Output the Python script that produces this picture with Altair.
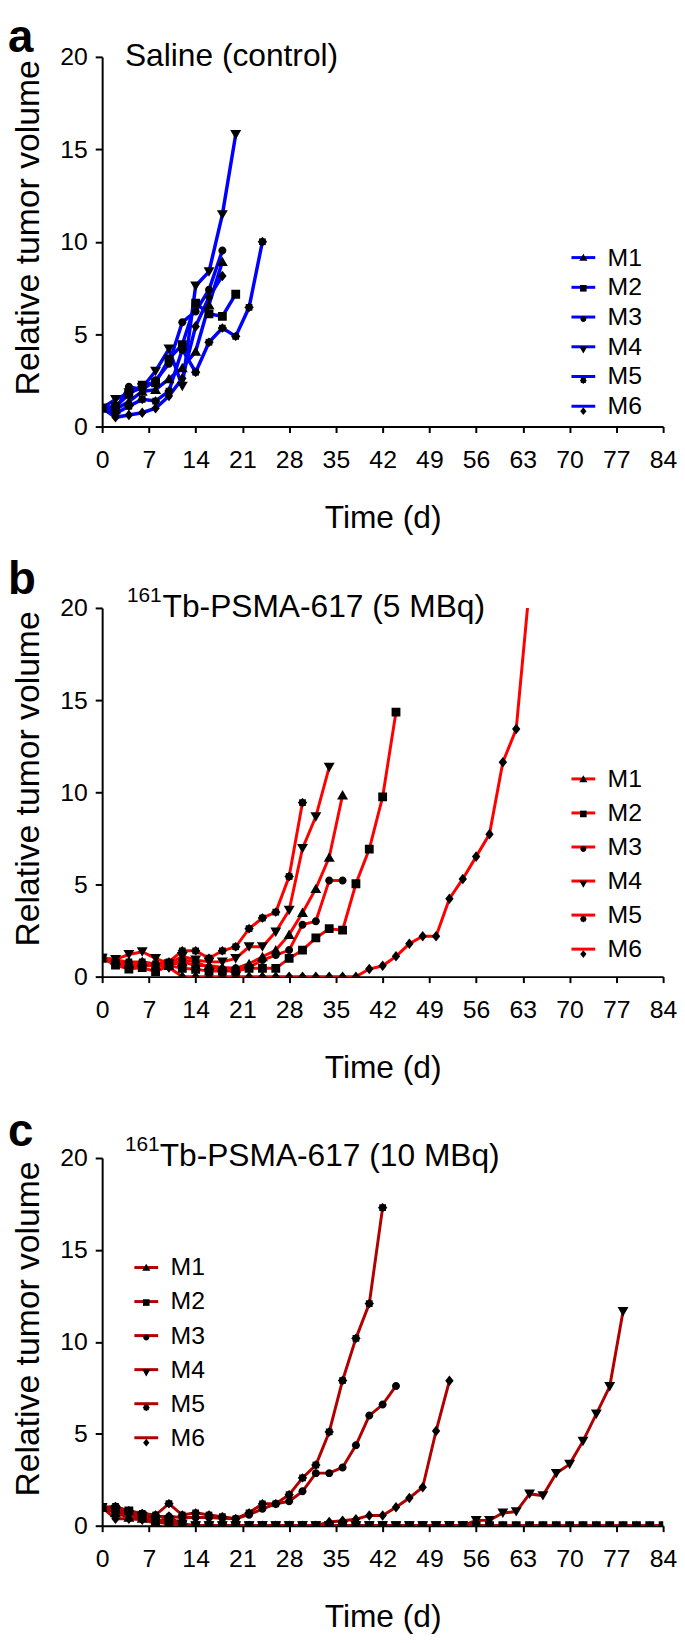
import math
import altair as alt
import pandas as pd

FONT = "Liberation Sans"
MICE = ["M1", "M2", "M3", "M4", "M5", "M6"]
X_TICKS = [0, 7, 14, 21, 28, 35, 42, 49, 56, 63, 70, 77, 84]
Y_TICKS = [0, 5, 10, 15, 20]

# ---------------- panel a : Saline (control) ----------------
A_DAYS = [0, 2, 4, 6, 8, 10, 12, 14, 16, 18, 20, 22, 24]
A_M1 = [1.0, 0.93, 1.35, 1.9, 2.0, 2.58, 3.18, 4.07, 6.59, 8.92]
A_M2 = [1.0, 1.1, 1.74, 2.24, 2.37, 3.66, 4.43, 6.68, 6.1, 5.96, 7.16]
A_M3 = [1.0, 0.9, 2.15, 2.0, 2.5, 3.4, 5.64, 6.23, 7.4, 9.52]
A_M4 = [1.0, 1.47, 1.83, 2.1, 3.0, 4.2, 2.19, 7.61, 8.38, 11.47, 15.8]
A_M5 = [1.0, 0.7, 1.1, 1.47, 1.38, 1.92, 4.17, 2.94, 4.56, 5.33, 4.88, 6.45, 10.0]
A_M6 = [1.0, 0.5, 0.63, 0.75, 0.99, 1.65, 2.6, 5.42, 7.0, 8.15]

# ---------------- panel b : 161Tb-PSMA-617 (5 MBq) ----------------
B_DAYS = [0, 2, 4, 6, 8, 10, 12, 14, 16, 18, 20, 22, 24, 26, 28, 30, 32,
          34, 36, 38, 40, 42, 44, 46, 48, 50, 52, 54, 56, 58, 60, 62, 64]
B_M1 = [1.0, 0.9, 0.7, 0.8, 0.6, 0.6, 0.8, 0.6, 0.6, 0.5, 0.45, 0.7, 1.08,
        1.44, 2.28, 3.47, 4.77, 6.47, 9.85]
B_M2 = [1.0, 0.63, 0.41, 0.49, 0.27, 0.6, 0.45, 0.4, 0.3, 0.3, 0.3, 0.45,
        0.45, 0.45, 0.99, 1.44, 2.1, 2.6, 2.52, 5.04, 6.92, 9.75, 14.35]
B_M3 = [1.0, 0.7, 0.6, 0.6, 0.6, 0.6, 0.9, 0.8, 0.5, 0.4, 0.45, 0.5, 0.9,
        1.17, 1.44, 2.82, 3.0, 5.22, 5.22]
B_M4 = [1.0, 0.94, 1.2, 1.35, 0.99, 0.7, 1.1, 0.9, 0.8, 0.8, 0.99, 1.62,
        1.62, 2.43, 3.6, 6.96, 8.68, 11.36]
B_M5 = [1.0, 0.9, 0.8, 0.8, 0.7, 0.8, 1.4, 1.4, 1.0, 1.4, 1.62, 2.6, 3.18,
        3.5, 5.43, 9.44]
B_M6 = [1.0, 0.8, 0.7, 0.7, 0.6, 0.5, 0.0, 0.0, 0.0, 0.0, 0.0, 0.0, 0.0,
        0.0, 0.0, 0.0, 0.0, 0.0, 0.0, 0.0, 0.41, 0.59, 1.1, 1.78, 2.19, 2.19,
        4.23, 5.3, 6.51, 7.73, 11.63, 13.43, 21.2]

# ---------------- panel c : 161Tb-PSMA-617 (10 MBq) ----------------
C_DAYS = [0, 2, 4, 6, 8, 10, 12, 14, 16, 18, 20, 22, 24, 26, 28, 30, 32,
          34, 36, 38, 40, 42, 44, 46, 48, 50, 52, 54, 56, 58, 60, 62, 64,
          66, 68, 70, 72, 74, 76, 78, 80, 82, 84]
C_M1 = [1.0, 0.7, 0.45, 0.4, 0.2, 0.1, 0.0, 0.0, 0.0, 0.0, 0.0, 0.0, 0.0,
        0.0, 0.0, 0.0, 0.0, 0.0, 0.0, 0.0, 0.0, 0.0, 0.0, 0.0, 0.0, 0.0,
        0.0, 0.0, 0.0, 0.0, 0.0, 0.0, 0.0, 0.0, 0.0, 0.0, 0.0, 0.0, 0.0,
        0.0, 0.0, 0.0, 0.0]
C_M2 = [1.0, 0.9, 0.81, 0.55, 0.3, 0.2, 0.05, 0.0, 0.0, 0.0, 0.0, 0.0, 0.0,
        0.0, 0.0, 0.0, 0.0, 0.0, 0.0, 0.0, 0.0, 0.0, 0.0, 0.0, 0.0, 0.0,
        0.0, 0.0, 0.0, 0.0, 0.0, 0.0, 0.0, 0.0, 0.0, 0.0, 0.0, 0.0, 0.0,
        0.0, 0.0, 0.0, 0.0]
C_M3 = [1.0, 0.9, 0.7, 0.6, 0.5, 0.5, 0.45, 0.45, 0.45, 0.4, 0.38, 0.6,
        0.92, 1.19, 1.33, 1.87, 2.86, 2.86, 3.17, 4.37, 5.99, 6.59, 7.6]
C_M4 = [1.0, 0.8, 0.6, 0.5, 0.3, 0.3, 0.1, 0.0, 0.0, 0.0, 0.0, 0.0, 0.0,
        0.0, 0.0, 0.0, 0.0, 0.0, 0.0, 0.0, 0.0, 0.0, 0.0, 0.0, 0.0, 0.0,
        0.0, 0.0, 0.29, 0.29, 0.69, 0.77, 1.73, 1.64, 2.85, 3.35, 4.6,
        6.08, 7.57, 11.66]
C_M5 = [1.0, 1.05, 0.81, 0.67, 0.58, 1.2, 0.58, 0.7, 0.58, 0.49, 0.38, 0.7,
        1.19, 1.19, 1.69, 2.6, 3.3, 5.1, 7.9, 10.19, 12.08, 17.3]
C_M6 = [1.0, 0.38, 0.38, 0.32, 0.14, 0.5, 0.05, 0.0, 0.0, 0.0, 0.0, 0.0,
        0.0, 0.0, 0.0, 0.0, 0.0, 0.2, 0.27, 0.35, 0.56, 0.56, 1.0, 1.51,
        2.09, 5.15, 7.88]

PANEL_LETTERS = ["a", "b", "c"]
PANEL_TITLES = ["Saline (control)", "Tb-PSMA-617 (5 MBq)", "Tb-PSMA-617 (10 MBq)"]
ISOTOPE = "161"
LINE_COLORS = ["#0000FF", "#FF0000", "#B00000"]
LINE_WIDTHS = [3.5, 3, 3]


def star_path(r_out=1.12, r_in=0.88):
    pts = []
    for k in range(16):
        r = r_out if k % 2 == 0 else r_in
        ang = k * math.pi / 8
        pts.append(f"{r * math.cos(ang):.3f},{r * math.sin(ang):.3f}")
    return "M" + "L".join(pts) + "Z"


SHAPES = [
    "M0,-1.2L1.3,1.05L-1.3,1.05Z",                       # M1 triangle up
    "M-1.05,-1.05H1.05V1.05H-1.05Z",                     # M2 square
    "M0.95,0A0.95,0.95 0 1,1 -0.95,0A0.95,0.95 0 1,1 0.95,0Z",  # M3 circle
    "M0,1.2L1.3,-1.05L-1.3,-1.05Z",                      # M4 triangle down
    star_path(),                                         # M5 star
    "M0,-1.25L1.0,0L0,1.25L-1.0,0Z",                     # M6 diamond
]

# legend entry box: max(ceil(sqrt(576) + 3), font) = 27 px for both legends
LEG_BOX_FONT = 27


def make_df(days, series):
    rows = []
    for m, vals in zip(MICE, series):
        for d, v in zip(days, vals):
            rows.append({"day": d, "vol": v, "mouse": m, "mouse_pt": m})
    return pd.DataFrame(rows)


def text_layer(txt, x, y, size, weight="normal"):
    return alt.Chart(pd.DataFrame({"label": [txt]})).mark_text(
        font=FONT, fontSize=size, fontWeight=weight, align="left",
        baseline="alphabetic", color="black"
    ).encode(text="label:N", x=alt.value(x), y=alt.value(y))


def panel(df, color, lw, letter, letter_y, titles, leg_x, leg_y, leg_pad, height):
    x_enc = alt.X(
        "day:Q",
        scale=alt.Scale(domain=[0, 84], nice=False, zero=False),
        axis=alt.Axis(
            values=X_TICKS, title="Time (d)", grid=False,
            domainColor="black", domainWidth=2, tickColor="black",
            tickWidth=2, tickSize=6, labelFont=FONT, labelFontSize=25,
            labelColor="black", labelPadding=15, labelFlush=False,
            labelOverlap=False, titleFont=FONT, titleFontSize=32,
            titleFontWeight="normal", titleColor="black", titleY=102,
            titleBaseline="alphabetic",
        ),
    )
    y_enc = alt.Y(
        "vol:Q",
        scale=alt.Scale(domain=[0, 20], nice=False),
        axis=alt.Axis(
            values=Y_TICKS, title="Relative tumor volume", grid=False,
            domainColor="black", domainWidth=2, tickColor="black",
            tickWidth=2, tickSize=7, labelFont=FONT, labelFontSize=25,
            labelColor="black", labelPadding=8, labelFlush=False,
            titleFont=FONT, titleFontSize=34, titleFontWeight="normal",
            titleColor="black", titleX=-57, titleY=172,
        ),
    )
    base = alt.Chart(df)
    lines = base.mark_line(strokeWidth=lw, clip=True).encode(
        x=x_enc, y=y_enc,
        color=alt.Color(
            "mouse:N",
            scale=alt.Scale(range=[color] * 6),
            legend=alt.Legend(
                orient="none", legendX=leg_x, legendY=leg_y, title=None,
                padding=0, labelFont=FONT, labelFontSize=25,
                labelColor="black", labelOffset=11, rowPadding=leg_pad,
                symbolType="stroke", symbolSize=576, symbolStrokeWidth=3,
                direction="vertical",
            ),
        ),
    )
    pts = base.mark_point(filled=True, size=72, clip=True, color="black",
                          opacity=1).encode(
        x=x_enc, y=y_enc,
        shape=alt.Shape(
            "mouse_pt:N",
            scale=alt.Scale(range=SHAPES),
            legend=alt.Legend(
                orient="none", legendX=leg_x, legendY=leg_y, title=None,
                padding=0, labelFont=FONT, labelFontSize=LEG_BOX_FONT,
                labelExpr="''", rowPadding=leg_pad, symbolSize=40,
                symbolFillColor="black", symbolStrokeColor="black",
                symbolStrokeWidth=0, symbolOpacity=1, direction="vertical",
            ),
        ),
    )
    layers = [lines, pts, text_layer(letter, -95, letter_y, 46, "bold")]
    for t in titles:
        layers.append(text_layer(*t))
    return alt.layer(*layers).properties(width=566, height=height)


df_a = make_df(A_DAYS, [A_M1, A_M2, A_M3, A_M4, A_M5, A_M6])
df_b = make_df(B_DAYS, [B_M1, B_M2, B_M3, B_M4, B_M5, B_M6])
df_c = make_df(C_DAYS, [C_M1, C_M2, C_M3, C_M4, C_M5, C_M6])

pa = panel(df_a, LINE_COLORS[0], LINE_WIDTHS[0], PANEL_LETTERS[0], -5,
           [(PANEL_TITLES[0], 23, 9, 32)], 472, 189, 3, 373)
pb = panel(df_b, LINE_COLORS[1], LINE_WIDTHS[1], PANEL_LETTERS[1], -14,
           [(ISOTOPE, 25, -6, 21), (PANEL_TITLES[1], 61, 9, 32)],
           472, 159, 7.35, 372)
pc = panel(df_c, LINE_COLORS[2], LINE_WIDTHS[2], PANEL_LETTERS[2], -12,
           [(ISOTOPE, 23, -7, 21), (PANEL_TITLES[2], 58, 8, 32)],
           31, 97, 7.35, 371)

chart = alt.vconcat(pa, pb, pc, spacing=183, bounds="flush").resolve_scale(
    color="independent", shape="independent"
).properties(padding=0).configure_view(strokeWidth=0)

chart.save("out.html", embed_options={"renderer": "svg", "actions": False})
